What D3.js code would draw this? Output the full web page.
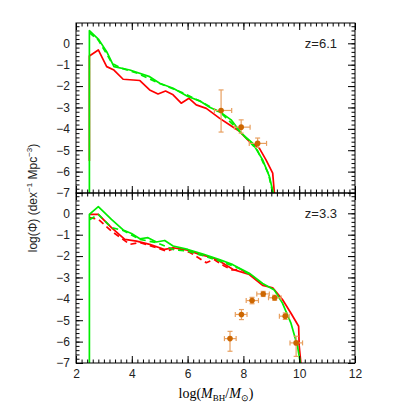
<!DOCTYPE html>
<meta charset="utf-8">
<style>
body { margin: 0; background: #fff; }
.axis path, .axis line { stroke: #000; stroke-width: 1px; }
.axis text { font-family: "Liberation Sans", Arial, sans-serif; font-size: 12px; fill: #222; }
.curve { fill: none; stroke-width: 1.7px; stroke-linejoin: round; }
.title { font-family: "Liberation Serif", "Times New Roman", serif; font-size: 14px; }
.ytitle { font-family: "Liberation Sans", Arial, sans-serif; font-size: 12px; fill: #222; }
.zlab { font-family: "Liberation Sans", Arial, sans-serif; font-size: 13px; fill: #222; }
</style>
<svg width="415" height="415"></svg>
<script src="https://d3js.org/d3.v7.min.js"></script>
<script>

// z=6.1 panel
var top_green_x = [2.48, 2.48, 2.8, 3.1, 3.36, 3.93, 4.64, 5.0, 5.48, 6.01, 6.43, 6.79, 7.2, 7.56, 7.92, 8.33, 8.69, 8.93, 9.07];
var top_green_y = [-7, 0.59, 0.2, -0.39, -1.09, -1.25, -1.56, -1.87, -2.1, -2.49, -2.69, -2.99, -3.24, -3.58, -4.2, -4.67, -5.45, -6.22, -7];
var top_green2_x = [2.48, 2.8, 3.1, 3.3, 3.6, 4.2, 5.0, 5.8, 6.5, 7.2, 7.9, 8.5, 8.9, 9.05];
var top_green2_y = [0.5, 0.15, -0.5, -0.95, -1.15, -1.4, -1.88, -2.3, -2.74, -3.26, -4.15, -5.0, -6.1, -7];
var top_red_x = [2.48, 2.48, 2.8, 3.1, 3.36, 3.69, 4.29, 4.64, 4.94, 5.21, 5.48, 5.77, 6.05, 6.31, 6.67, 7.14, 7.5, 7.86, 8.21, 8.57, 8.81, 9.05, 9.11];
var top_red_y = [-5.5, -0.59, -0.31, -1.09, -1.25, -1.68, -1.74, -2.18, -2.37, -2.23, -2.41, -2.8, -2.57, -2.88, -3.04, -3.5, -3.81, -4.12, -4.59, -4.9, -5.45, -6.07, -7];

// observed points, z=6.1
var top_obs_x = [7.2, 7.92, 8.51];
var top_obs_y = [-3.14, -3.92, -4.68];
var top_obs_xlo = [6.96, 7.68, 8.21];
var top_obs_xhi = [7.58, 8.24, 8.83];
var top_obs_ylo = [-4.15, -4.2, -4.87];
var top_obs_yhi = [-2.18, -3.58, -4.43];

// z=3.3 panel
var bot_green_x = [2.48, 2.48, 2.8, 3.27, 3.69, 3.99, 4.29, 4.58, 4.88, 5.18, 5.48, 6.01, 6.55, 7.14, 7.62, 8.21, 8.69, 9.11, 9.4, 9.7, 9.94, 10.04];
var bot_green_y = [-7, -0.05, 0.31, -0.28, -0.78, -0.94, -1.19, -1.14, -1.34, -1.27, -1.53, -1.69, -1.9, -2.16, -2.4, -2.8, -3.28, -3.59, -4.2, -5.12, -6.22, -7];
var bot_green2_x = [2.48, 2.8, 3.27, 3.69, 4.29, 4.88, 5.48, 6.01, 6.6, 7.2, 7.8, 8.3];
var bot_green2_y = [-0.3, -0.05, -0.67, -0.8, -1.22, -1.37, -1.69, -1.77, -2.0, -2.25, -2.55, -2.9];
var bot_red_x = [2.48, 2.8, 3.27, 3.75, 4.17, 4.64, 5.18, 5.48, 6.0, 6.43, 6.9, 7.14, 7.62, 8.21, 8.69, 9.05, 9.4, 9.7, 9.98, 10.0, 10.06];
var bot_red_y = [-0.05, -0.05, -0.67, -1.22, -1.3, -1.45, -1.69, -1.61, -1.72, -1.92, -2.08, -2.23, -2.62, -2.86, -3.37, -3.48, -4.03, -4.66, -5.28, -6.2, -7];
var bot_red2_x = [2.48, 2.8, 3.27, 3.93, 4.29, 4.9, 5.24, 5.6, 6.1, 6.67, 6.95, 7.3, 7.6, 7.9, 8.2];
var bot_red2_y = [-0.2, -0.28, -0.83, -1.45, -1.37, -1.61, -1.77, -1.61, -1.84, -2.31, -2.16, -2.45, -2.65, -2.62, -2.86];

// observed points, z=3.3
var bot_obs_x = [7.52, 7.93, 8.31, 8.71, 9.12, 9.5, 9.89];
var bot_obs_y = [-5.86, -4.73, -4.08, -3.77, -3.95, -4.81, -6.06];
var bot_obs_xlo = [7.32, 7.71, 8.1, 8.48, 8.9, 9.29, 9.67];
var bot_obs_xhi = [7.74, 8.13, 8.54, 8.93, 9.35, 9.64, 10.12];
var bot_obs_ylo = [-6.45, -4.97, -4.23, -3.89, -4.07, -4.96, -6.69];
var bot_obs_yhi = [-5.52, -4.5, -3.93, -3.65, -3.83, -4.66, -5.75];

var xMajor = [2, 4, 6, 8, 10, 12];
var yMajor = [-7, -6, -5, -4, -3, -2, -1, 0];

var svg = d3.select("svg");
var left = 76, right = 355;

var x = d3.scaleLinear().domain([2, 12]).range([left, right]);
var yTop = d3.scaleLinear().domain([-7, 0.95]).range([193, 23]);
var yBot = d3.scaleLinear().domain([-7, 0.95]).range([363, 193]);

var xMinor = d3.range(2, 12.001, 0.2).map(function(v) { return +v.toFixed(1); });
var yMinor = d3.range(-7, 0.96, 0.2).map(function(v) { return +v.toFixed(1); });

function fmt(d) { return d < 0 ? "\u2212" + (-d) : "" + d; }

function pts(xs, ys) { return xs.map(function(v, i) { return [v, ys[i]]; }); }

function panel(y, showX, lines, obs, label) {
  var g = svg.append("g");
  var y0 = y.range()[0], y1 = y.range()[1];

  // curves
  var line = d3.line().x(function(d) { return x(d[0]); }).y(function(d) { return y(d[1]); });
  lines.forEach(function(l) {
    g.append("path")
        .attr("class", "curve")
        .attr("stroke", l.color)
        .attr("stroke-dasharray", l.dash ? "6,4" : null)
        .attr("d", line(pts(l.x, l.y)));
  });

  // observational points
  var o = g.append("g");
  obs.x.forEach(function(v, i) {
    o.append("line").attr("x1", x(obs.xlo[i])).attr("x2", x(obs.xhi[i]))
        .attr("y1", y(obs.y[i])).attr("y2", y(obs.y[i]))
        .attr("stroke", "#e8a060").attr("stroke-width", 1.2);
    o.append("line").attr("x1", x(v)).attr("x2", x(v))
        .attr("y1", y(obs.ylo[i])).attr("y2", y(obs.yhi[i]))
        .attr("stroke", "#e8a060").attr("stroke-width", 1.2);
    [obs.xlo[i], obs.xhi[i]].forEach(function(e) {
      o.append("line").attr("x1", x(e)).attr("x2", x(e))
          .attr("y1", y(obs.y[i]) - 2.5).attr("y2", y(obs.y[i]) + 2.5)
          .attr("stroke", "#e8a060").attr("stroke-width", 1.2);
    });
    [obs.ylo[i], obs.yhi[i]].forEach(function(e) {
      o.append("line").attr("x1", x(v) - 2.5).attr("x2", x(v) + 2.5)
          .attr("y1", y(e)).attr("y2", y(e))
          .attr("stroke", "#e8a060").attr("stroke-width", 1.2);
    });
    o.append("circle").attr("cx", x(v)).attr("cy", y(obs.y[i])).attr("r", 2.8)
        .attr("fill", "#cc6600");
  });

  // frame + ticks (inward on all four sides)
  g.append("rect").attr("x", left).attr("y", y1).attr("width", right - left).attr("height", y0 - y1)
      .attr("fill", "none").attr("stroke", "#000");

  function ax(axis, tr, major, size, lab) {
    var a = g.append("g").attr("class", "axis").attr("transform", tr)
        .call(axis.tickValues(major).tickSize(-size).tickPadding(6)
          .tickFormat(lab ? fmt : ""));
    a.select(".domain").remove();
    return a;
  }
  ax(d3.axisBottom(x), "translate(0," + y0 + ")", xMinor, 3.5, false);
  ax(d3.axisBottom(x), "translate(0," + y0 + ")", xMajor, 7, showX);
  ax(d3.axisTop(x), "translate(0," + y1 + ")", xMinor, 3.5, false);
  ax(d3.axisTop(x), "translate(0," + y1 + ")", xMajor, 7, false);
  ax(d3.axisLeft(y), "translate(" + left + ",0)", yMinor, 3.5, false);
  ax(d3.axisLeft(y), "translate(" + left + ",0)", yMajor, 7, true);
  ax(d3.axisRight(y), "translate(" + right + ",0)", yMinor, 3.5, false);
  ax(d3.axisRight(y), "translate(" + right + ",0)", yMajor, 7, false);

  g.append("text").attr("class", "zlab").attr("x", 337).attr("y", y1 + 25)
      .attr("text-anchor", "end").text(label);
}

panel(yTop, false, [
  { x: top_red_x, y: top_red_y, color: "#ff0000" },
  { x: top_green2_x, y: top_green2_y, color: "#00ee00", dash: true },
  { x: top_green_x, y: top_green_y, color: "#00ee00" }
], { x: top_obs_x, y: top_obs_y, xlo: top_obs_xlo, xhi: top_obs_xhi, ylo: top_obs_ylo, yhi: top_obs_yhi }, "z=6.1");

panel(yBot, true, [
  { x: bot_red2_x, y: bot_red2_y, color: "#ff0000", dash: true },
  { x: bot_red_x, y: bot_red_y, color: "#ff0000" },
  { x: bot_green2_x, y: bot_green2_y, color: "#00ee00", dash: true },
  { x: bot_green_x, y: bot_green_y, color: "#00ee00" }
], { x: bot_obs_x, y: bot_obs_y, xlo: bot_obs_xlo, xhi: bot_obs_xhi, ylo: bot_obs_ylo, yhi: bot_obs_yhi }, "z=3.3");

// axis titles
var xt = svg.append("text").attr("class", "title").attr("x", 216).attr("y", 398).attr("text-anchor", "middle");
xt.append("tspan").text("log(");
xt.append("tspan").attr("font-style", "italic").text("M");
xt.append("tspan").attr("font-size", "9px").attr("dy", 3).text("BH");
xt.append("tspan").attr("dy", -3).text("/");
xt.append("tspan").attr("font-style", "italic").text("M");
xt.append("tspan").attr("font-size", "9px").attr("dy", 3).text("\u2299");
xt.append("tspan").attr("dy", -3).text(")");

var yt = svg.append("text").attr("class", "ytitle")
    .attr("transform", "translate(37,198) rotate(-90)").attr("text-anchor", "middle");
yt.append("tspan").text("log(\u03A6) (dex");
yt.append("tspan").attr("font-size", "8px").attr("dy", -5).text("\u22121");
yt.append("tspan").attr("dy", 5).text(" Mpc");
yt.append("tspan").attr("font-size", "8px").attr("dy", -5).text("\u22123");
yt.append("tspan").attr("dy", 5).text(")");

</script>
